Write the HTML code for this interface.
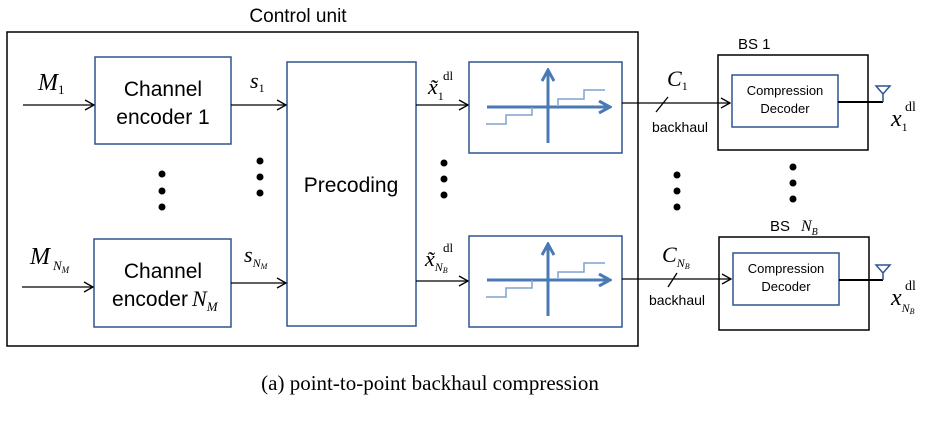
<!DOCTYPE html>
<html><head><style>
body{margin:0;background:#fff;}
svg text{font-family:"Liberation Sans",sans-serif;}
svg .s, svg .s text{font-family:"Liberation Serif",serif;font-style:italic;}
svg .r, svg .s text.r{font-family:"Liberation Serif",serif;font-style:normal;}
</style></head><body>
<svg width="926" height="436" viewBox="0 0 926 436" xmlns="http://www.w3.org/2000/svg">
<defs><marker id="a" markerWidth="12" markerHeight="12" refX="10" refY="6" orient="auto" markerUnits="userSpaceOnUse"><path d="M1,1 L10,6 L1,11" fill="none" stroke="#000" stroke-width="1.3"/></marker>
<marker id="b" markerWidth="14" markerHeight="14" refX="12" refY="7" orient="auto" markerUnits="userSpaceOnUse"><path d="M1,1 L12,7 L1,13" fill="none" stroke="#4a7ab5" stroke-width="3"/></marker></defs>
<text x="298" y="22" font-size="19" text-anchor="middle">Control unit</text>
<rect x="7" y="32" width="631" height="314" fill="none" stroke="#000" stroke-width="1.5"/>
<g fill="none" stroke="#2e5590" stroke-width="1.5">
<rect x="95" y="57" width="136" height="87"/>
<rect x="94" y="239" width="137" height="88"/>
<rect x="287" y="62" width="129" height="264"/>
<rect x="469" y="62" width="153" height="91"/>
<rect x="469" y="236" width="153" height="91"/>
<rect x="732" y="75" width="106" height="52"/>
<rect x="733" y="253" width="106" height="52"/>
</g>
<rect x="718" y="55" width="150" height="95" fill="none" stroke="#000" stroke-width="1.5"/>
<rect x="719" y="237" width="150" height="93" fill="none" stroke="#000" stroke-width="1.5"/>
<g stroke="#000" stroke-width="1.3" fill="none">
<line x1="23" y1="105" x2="94" y2="105" marker-end="url(#a)"/>
<line x1="22" y1="287" x2="93" y2="287" marker-end="url(#a)"/>
<line x1="231" y1="105" x2="286" y2="105" marker-end="url(#a)"/>
<line x1="231" y1="283" x2="286" y2="283" marker-end="url(#a)"/>
<line x1="416" y1="105" x2="468" y2="105" marker-end="url(#a)"/>
<line x1="416" y1="281" x2="468" y2="281" marker-end="url(#a)"/>
<line x1="622" y1="103" x2="730" y2="103" marker-end="url(#a)"/>
<line x1="622" y1="279" x2="731" y2="279" marker-end="url(#a)"/>
<line x1="668" y1="97" x2="656" y2="112"/>
<line x1="677" y1="273" x2="668" y2="287"/>
<line x1="838" y1="102" x2="883" y2="102" stroke-width="2"/>
<line x1="839" y1="280" x2="883" y2="280" stroke-width="2"/>
</g>
<g stroke="#2e5590" stroke-width="1.5" fill="none">
<path d="M883,102 V93 M876,86 L890,86 L883,94 Z"/>
<path d="M883,280 V272 M876,265 L890,265 L883,273 Z"/>
</g>
<g stroke="#4a7ab5" fill="none">
<line x1="487" y1="107" x2="610" y2="107" stroke-width="3" marker-end="url(#b)"/>
<line x1="548" y1="143" x2="548" y2="70" stroke-width="3" marker-end="url(#b)"/>
<path d="M486,124 H506 V115 H532 V107 M558,105 V99 H584 V90 H605" stroke-width="1.5" stroke="#7fa2cf"/>
<line x1="487" y1="280" x2="610" y2="280" stroke-width="3" marker-end="url(#b)"/>
<line x1="548" y1="316" x2="548" y2="244" stroke-width="3" marker-end="url(#b)"/>
<path d="M486,297 H506 V288 H532 V280 M558,278 V272 H584 V263 H605" stroke-width="1.5" stroke="#7fa2cf"/>
</g>
<g font-size="21" text-anchor="middle" fill="#000">
<text x="163" y="96">Channel</text><text x="163" y="124">encoder 1</text>
<text x="163" y="278">Channel</text><text x="150" y="306">encoder</text>
<text x="351" y="192">Precoding</text>
</g>
<text x="192" y="306" class="s" font-size="22">N<tspan font-size="13" dy="5">M</tspan></text>
<g font-size="13" text-anchor="middle">
<text x="785" y="95">Compression</text><text x="785" y="113">Decoder</text>
<text x="786" y="273">Compression</text><text x="786" y="291">Decoder</text>
<text x="680" y="132" font-size="14">backhaul</text>
<text x="677" y="305" font-size="14">backhaul</text>
</g>
<text x="738" y="49" font-size="15">BS 1</text>
<text x="770" y="231" font-size="15">BS</text>
<text x="801" y="231" class="s" font-size="16">N<tspan font-size="10" dy="4">B</tspan></text>
<g class="s" font-size="24">
<text x="38" y="90">M<tspan font-size="13" font-style="normal" dy="4">1</tspan></text>
<text x="30" y="264">M<tspan font-size="13" dx="3" dy="6">N</tspan><tspan font-size="9" dy="3">M</tspan></text>
<text x="250" y="88" font-size="22">s<tspan font-size="12" font-style="normal" dy="4">1</tspan></text>
<text x="244" y="262" font-size="22">s<tspan font-size="12" dy="5">N</tspan><tspan font-size="8" dy="2">M</tspan></text>
<text x="428" y="94" font-size="22">x̃<tspan font-size="12" font-style="normal" dy="6">1</tspan></text>
<text x="443" y="80" font-size="13" class="r">dl</text>
<text x="425" y="266" font-size="22">x̃<tspan font-size="12" dy="5">N</tspan><tspan font-size="8" dy="2">B</tspan></text>
<text x="443" y="252" font-size="13" class="r">dl</text>
<text x="667" y="86" font-size="22">C<tspan font-size="12" font-style="normal" dy="4">1</tspan></text>
<text x="662" y="262" font-size="22">C<tspan font-size="12" dy="5">N</tspan><tspan font-size="8" dy="2">B</tspan></text>
<text x="891" y="126" font-size="24">x<tspan font-size="12" font-style="normal" dy="5">1</tspan></text>
<text x="905" y="111" font-size="14" class="r">dl</text>
<text x="891" y="305" font-size="24">x<tspan font-size="12" dy="7">N</tspan><tspan font-size="8" dy="2">B</tspan></text>
<text x="905" y="290" font-size="14" class="r">dl</text>
</g>
<g fill="#000">
<circle cx="162" cy="174" r="3.5"/><circle cx="162" cy="191" r="3.5"/><circle cx="162" cy="207" r="3.5"/>
<circle cx="260" cy="161" r="3.5"/><circle cx="260" cy="177" r="3.5"/><circle cx="260" cy="193" r="3.5"/>
<circle cx="444" cy="163" r="3.5"/><circle cx="444" cy="179" r="3.5"/><circle cx="444" cy="195" r="3.5"/>
<circle cx="677" cy="175" r="3.5"/><circle cx="677" cy="191" r="3.5"/><circle cx="677" cy="207" r="3.5"/>
<circle cx="793" cy="167" r="3.5"/><circle cx="793" cy="183" r="3.5"/><circle cx="793" cy="199" r="3.5"/>
</g>
<text x="430" y="390" class="r" font-size="21" text-anchor="middle">(a) point-to-point backhaul compression</text>
</svg>
</body></html>
